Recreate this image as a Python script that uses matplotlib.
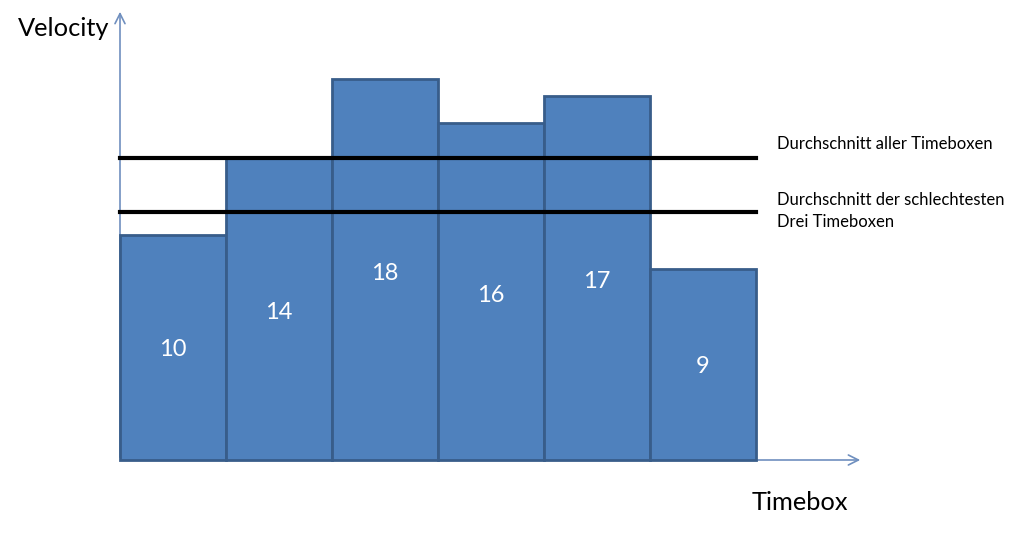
import matplotlib.pyplot as plt

# Daten
timeboxen = [1, 2, 3, 4, 5, 6]
hoehen = [10.65, 14.25, 18.0, 15.9, 17.2, 9.0]   # Balkenhöhen wie gezeichnet
beschriftung = ['10', '14', '18', '16', '17', '9']
schnitt_alle = 14.25
schnitt_schlecht = 11.7

plt.rcParams['font.family'] = ['Lato', 'DejaVu Sans']

fig = plt.figure(figsize=(10.24, 5.36), dpi=100)
ax = fig.add_axes([0, 0, 1, 1])
px_x = 106.0   # Pixel pro Timebox
px_y = 21.17   # Pixel pro Einheit
ax.set_xlim(-120 / px_x, (1024 - 120) / px_x)
ax.set_ylim(-(536 - 460) / px_y, 460 / px_y)
ax.axis('off')

# Balken
x_links = [t - 1 for t in timeboxen]
ax.bar(x_links, hoehen, width=1, align='edge', color='#4f81bd',
       edgecolor='#385d8a', linewidth=2, zorder=2)

# Zahlen in den Balken
for x, h, txt in zip(x_links, hoehen, beschriftung):
    ax.text(x + 0.5, h * 0.49, txt, color='white', fontsize=17,
            ha='center', va='center', zorder=3)

# Durchschnittslinien
ax.plot([0, 6], [schnitt_alle, schnitt_alle], color='black', lw=3, zorder=4)
ax.plot([0, 6], [schnitt_schlecht, schnitt_schlecht], color='black', lw=3, zorder=4)
ax.text(6.2, schnitt_alle + 0.7, 'Durchschnitt aller Timeboxen',
        fontsize=12, va='center', ha='left')
ax.text(6.2, schnitt_schlecht + 0.06, 'Durchschnitt der schlechtesten\nDrei Timeboxen',
        fontsize=12, va='center', ha='left', linespacing=1.45)

# Achsen mit Pfeilen
pfeil = dict(arrowstyle='->', color='#6f8fbf', lw=1.2, mutation_scale=18)
ax.annotate('', xy=(0, 451 / px_y), xytext=(0, 0), arrowprops=pfeil, zorder=1)
ax.annotate('', xy=(743 / px_x, 0), xytext=(0, 0), arrowprops=pfeil, zorder=1)

ax.text(-102 / px_x, 431 / px_y, 'Velocity', fontsize=18.3, va='center', ha='left')
ax.text(632 / px_x, -43 / px_y, 'Timebox', fontsize=18.3, va='center', ha='left')

fig.savefig('out.png', dpi=100)
